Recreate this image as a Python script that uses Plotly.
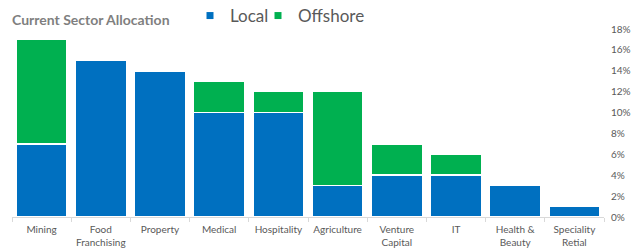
import plotly.graph_objects as go

categories = ["Mining", "Food<br>Franchising", "Property", "Medical", "Hospitality",
              "Agriculture", "Venture<br>Capital", "IT", "Health &<br>Beauty", "Speciality<br>Retial"]
local = [7, 15, 14, 10, 10, 3, 4, 4, 3, 1]
offshore = [10, 0, 0, 3, 2, 9, 3, 2, 0, 0]
tick_vals = [0, 2, 4, 6, 8, 10, 12, 14, 16, 18]

BLUE = "#0070C0"
GREEN = "#00B050"

fig = go.Figure()
fig.add_trace(go.Bar(name="Local", x=categories, y=local, showlegend=False, legendgroup="l",
                     marker=dict(color=BLUE, line=dict(color="white", width=1.5))))
fig.add_trace(go.Bar(name="Offshore", x=categories, y=offshore, showlegend=False, legendgroup="o",
                     marker=dict(color=GREEN, line=dict(color="white", width=1.5))))
# legend entries with small square symbols
fig.add_trace(go.Scatter(name="Local", x=[None], y=[None], mode="markers", legendgroup="l", legend="legend",
                         marker=dict(symbol="square", size=7, color=BLUE)))
fig.add_trace(go.Scatter(name="Offshore", x=[None], y=[None], mode="markers", legendgroup="o", legend="legend2",
                         marker=dict(symbol="square", size=7, color=GREEN)))

leg_common = dict(orientation="h", xref="container", xanchor="left",
                  y=1-16/248, yref="container", yanchor="middle",
                  font=dict(size=17, color="#595959"), itemwidth=30,
                  bgcolor="rgba(0,0,0,0)")

fig.update_layout(
    barmode="stack",
    bargap=0.14,
    width=642, height=248,
    margin=dict(l=12, r=38, t=29, b=31, autoexpand=False),
    paper_bgcolor="white", plot_bgcolor="white",
    font=dict(family="Lato, Open Sans, sans-serif", color="#595959"),
    title=dict(text="<b>Current Sector Allocation</b>", x=12/642, xref="container", xanchor="left",
               y=1-20/248, yref="container", yanchor="middle",
               font=dict(size=14, color="#7F7F7F")),
    legend=dict(x=190/642, **leg_common),
    legend2=dict(x=258/642, **leg_common),
    showlegend=True,
)
fig.update_xaxes(showline=True, linecolor="#D9D9D9", linewidth=1, ticks="outside", tickson="boundaries",
                 ticklen=4, tickcolor="#D9D9D9", tickfont=dict(size=10, color="#595959"),
                 ticklabelstandoff=3, automargin=False)
fig.update_yaxes(side="right", range=[0, 18], tickvals=tick_vals, ticktext=[f"{v}%" for v in tick_vals],
                 showgrid=False, zeroline=False, showline=False, tickfont=dict(size=10, color="#595959"),
                 ticklabelstandoff=6, automargin=False)

fig.write_html("out.html", config={"displayModeBar": False},
               post_script="document.body.style.margin='0';")
